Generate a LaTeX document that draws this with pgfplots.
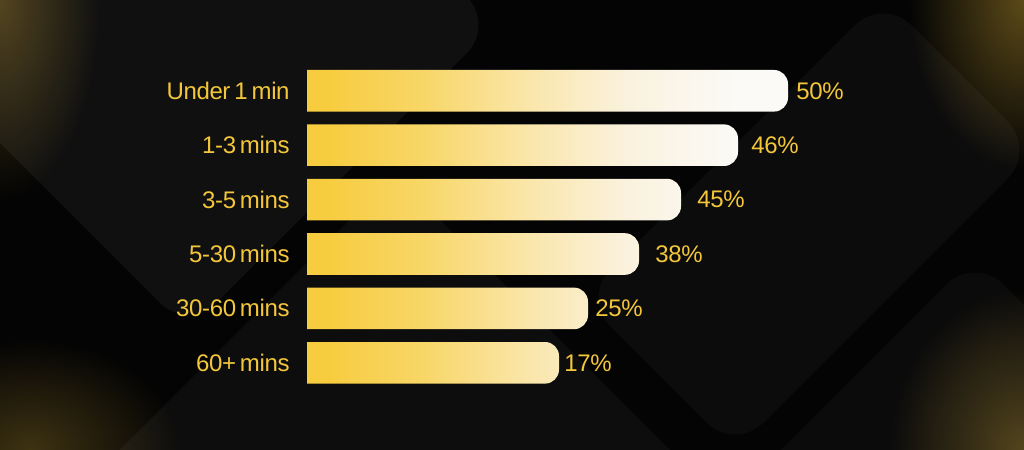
\documentclass[border=0pt]{standalone}
\usepackage{pgfplots}
\pgfplotsset{compat=1.18}
\usepackage{pgfplotstable}
\usepackage{fontspec}
\setmainfont{Liberation Sans}[WordSpace=0.62, LetterSpace=-1.5]

\definecolor{bgc}{HTML}{040404}
\definecolor{glowTL}{HTML}{4A3B14}
\definecolor{glowTR}{HTML}{5C4A18}
\definecolor{glowBR}{HTML}{4E3F16}
\definecolor{glowBL}{HTML}{3E3212}
\definecolor{txtY}{HTML}{F4C73A}
\definecolor{barY}{HTML}{F7CC3F}
\definecolor{barM}{HTML}{F8D76A}
\definecolor{barL}{HTML}{FAE6AA}
\definecolor{barC}{HTML}{FAF2DE}
\definecolor{barW}{HTML}{FBFAF7}

% bar fill: the bar's box maps onto 25bp..75bp
\pgfdeclarehorizontalshading{barfade}{100bp}{%
  color(0bp)=(barY); color(29bp)=(barY); color(39bp)=(barM);
  color(49bp)=(barL); color(59bp)=(barC); color(70bp)=(barW);
  color(100bp)=(barW)}

% drawn length (bars start 2 units left of the visible edge), label x, value
\pgfplotstableread{
row bar labx pct
0 50.1 50.9 50
1 45.1 46.4 46
2 39.4 41.0 45
3 35.2 36.8 38
4 30.1 30.8 25
5 27.2 27.7 17
}\bars

\begin{document}
\begin{tikzpicture}
\useasboundingbox (0,0) rectangle (512pt,225pt);
\begin{scope}[x=0.5pt, y=-0.5pt, shift={(0pt,225pt)}]
  \fill[bgc] (0,0) rectangle (1024,450);
  \shade[inner color=glowTL, outer color=bgc] (0,0) ellipse (100 and 200);
  \shade[inner color=glowBL, outer color=bgc] (30,450) ellipse (150 and 110);
  \shade[inner color=glowTR, outer color=bgc] (1024,0) ellipse (115 and 170);
  \shade[inner color=glowBR, outer color=bgc] (1024,450) ellipse (135 and 160);
  \fill[white, fill opacity=0.05, rounded corners=20pt]
    (188,331) -- (495,25) -- (95,-375) -- (-212,-69) -- cycle;
  \fill[white, fill opacity=0.04, rounded corners=25pt]
    (395,175) -- (795,575) -- (395,975) -- (-5,575) -- cycle;
  \fill[white, fill opacity=0.035, rounded corners=20pt]
    (582,298) -- (883,-3) -- (1036,150) -- (735,451) -- cycle;
  \fill[white, fill opacity=0.03, rounded corners=20pt]
    (975,256) -- (1375,656) -- (975,1056) -- (575,656) -- cycle;
\end{scope}
\begin{axis}[
    at={(143.5pt,23.2pt)}, anchor=south west,
    scale only axis,
    x=5pt, y=27.2pt,
    xmin=0, xmax=62,
    ymin=-0.75, ymax=5.75,
    y dir=reverse,
    axis line style={draw=none},
    tick style={draw=none},
    xtick=\empty,
    ytick={0,...,5},
    yticklabels={Under 1 min, 1-3 mins, 3-5 mins, 5-30 mins, 30-60 mins, 60+ mins},
    yticklabel style={anchor=east, inner sep=0pt, xshift=1.5pt,
                      text=txtY, font=\fontsize{12pt}{14pt}\selectfont},
    clip mode=individual,
]
\begin{scope}
\clip (axis cs:2,-1) rectangle (axis cs:70,7);
\addplot[xbar, bar width=20.8pt, bar shift=0pt, draw=none,
         shade, shading=barfade, rounded corners=7pt]
    table[x=bar, y=row] {\bars};
\end{scope}
\addplot[draw=none, mark=none,
         point meta=explicit symbolic,
         nodes near coords={\pgfplotspointmeta\%},
         every node near coord/.append style={anchor=west, inner sep=0pt,
             text=txtY, font=\fontsize{12pt}{14pt}\selectfont}]
    table[x=labx, y=row, meta=pct] {\bars};
\end{axis}
\end{tikzpicture}
\end{document}
